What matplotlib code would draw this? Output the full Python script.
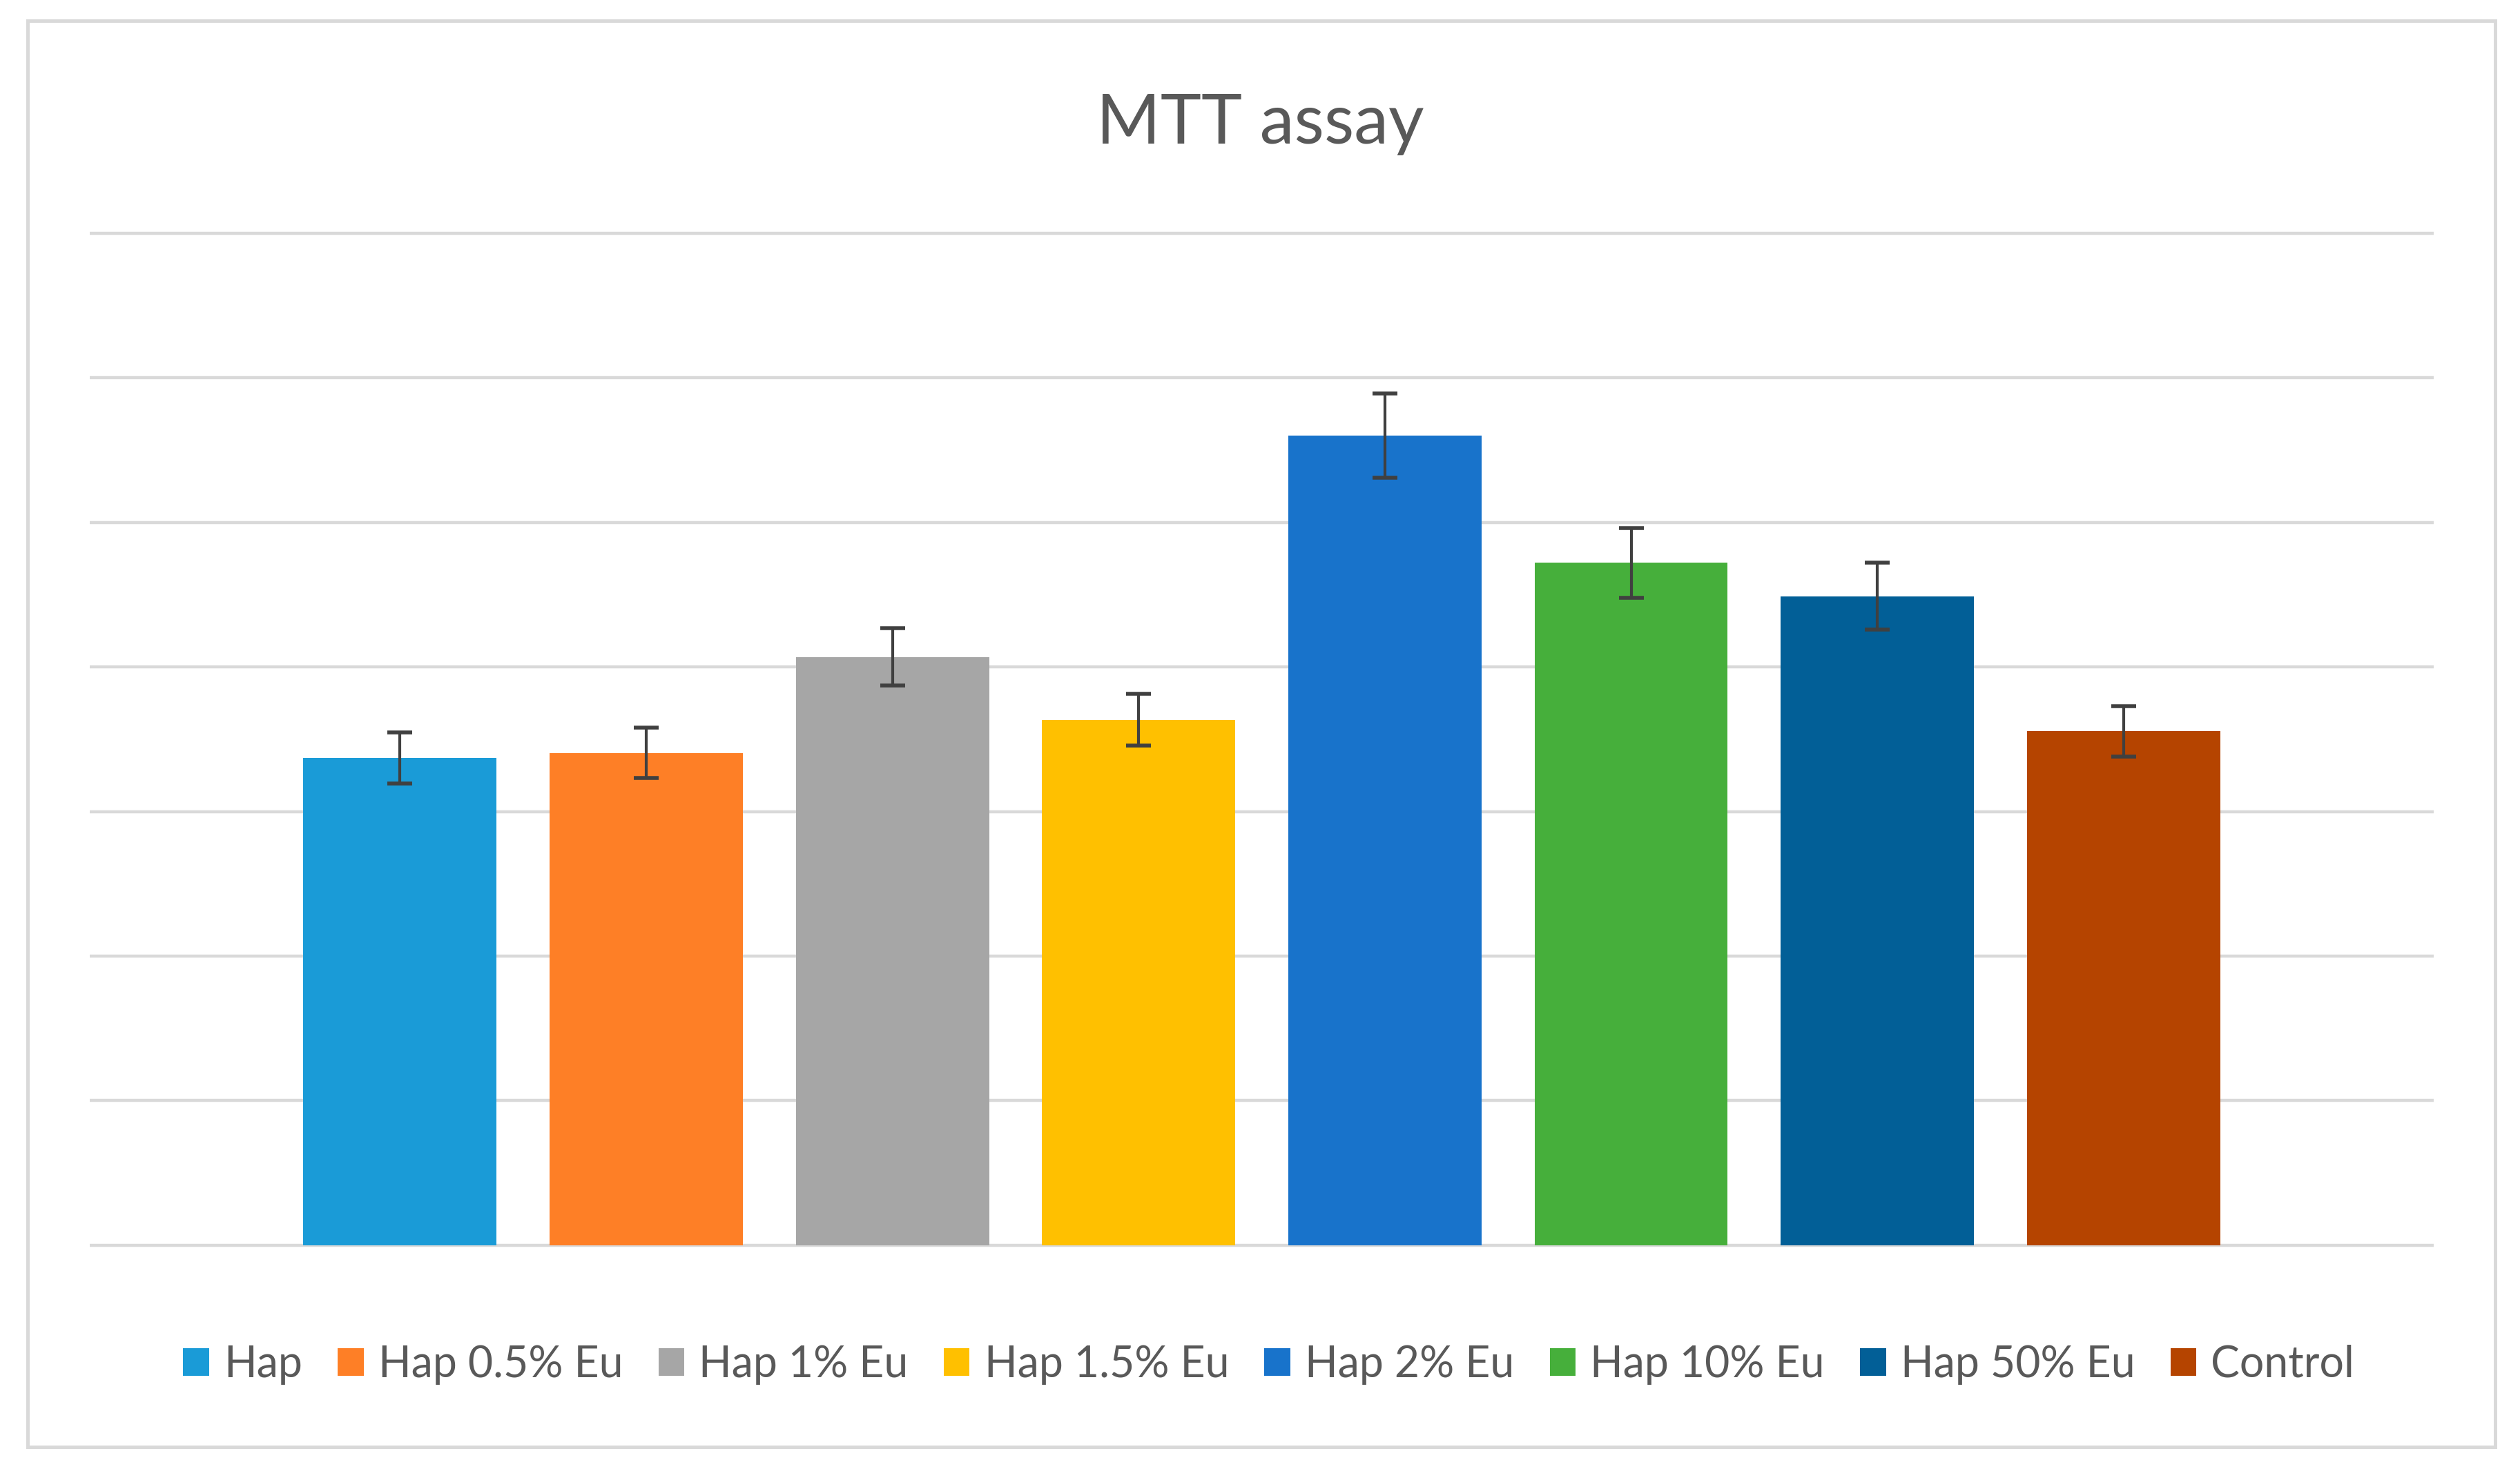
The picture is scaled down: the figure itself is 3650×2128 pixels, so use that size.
import matplotlib
matplotlib.use('Agg')
import matplotlib.pyplot as plt
from matplotlib.patches import Rectangle
import numpy as np

plt.rcParams['font.family'] = ['Lato', 'DejaVu Sans']

# data (no y tick labels in the original)
groups = ['Hap', 'Hap 0.5% Eu', 'Hap 1% Eu', 'Hap 1.5% Eu', 'Hap 2% Eu',
          'Hap 10% Eu', 'Hap 50% Eu', 'Control']
means = [3.37, 3.405, 4.07, 3.635, 5.60, 4.72, 4.49, 3.555]
errors = [0.175, 0.175, 0.20, 0.18, 0.29, 0.24, 0.23, 0.175]
colors = ['#1A9BD7', '#FE7F26', '#A6A6A6', '#FFC000', '#1873CB',
          '#46AF3B', '#025F97', '#B54400']

text_color = '#595959'
grid_color = '#D9D9D9'

fig = plt.figure(figsize=(36.5, 21.28), dpi=100)
ax = fig.add_axes([0.0356, 0.1523, 0.9302, 0.6889])

# light grey frame round the whole chart
fig.add_artist(Rectangle((0.011, 0.015), 0.979, 0.971, transform=fig.transFigure,
                         fill=False, edgecolor=grid_color, linewidth=3.6))

x = np.arange(len(groups))
ax.set_ylim(0, 7)
ax.set_xlim(-1.26, len(groups) - 1 + 1.26)

# gridlines (drawn unclipped so the bottom and top ones are full width)
ax.hlines(np.arange(0, 8), -1.26, len(groups) - 1 + 1.26, colors=grid_color,
          linewidth=3.2, zorder=0, clip_on=False)

for i in range(len(groups)):
    ax.bar(x[i], means[i], width=0.785, color=colors[i], label=groups[i], zorder=2)

ax.errorbar(x, means, yerr=errors, fmt='none', ecolor='#404040',
            elinewidth=3.0, capsize=13, capthick=4.0, zorder=3)

for s in ax.spines.values():
    s.set_visible(False)
ax.set_xticks([])
ax.set_yticks([])

fig.text(0.5, 0.9155, 'MTT assay', ha='center', va='center',
         fontsize=72, color=text_color)

leg = fig.legend(loc='center', bbox_to_anchor=(0.5035, 0.071), ncol=8,
                 frameon=False, fontsize=45, handlelength=0.6, handleheight=0.6,
                 handletextpad=0.34, columnspacing=0.82, borderpad=0)
for t in leg.get_texts():
    t.set_color(text_color)

plt.savefig('out.png', dpi=100, facecolor='white')
